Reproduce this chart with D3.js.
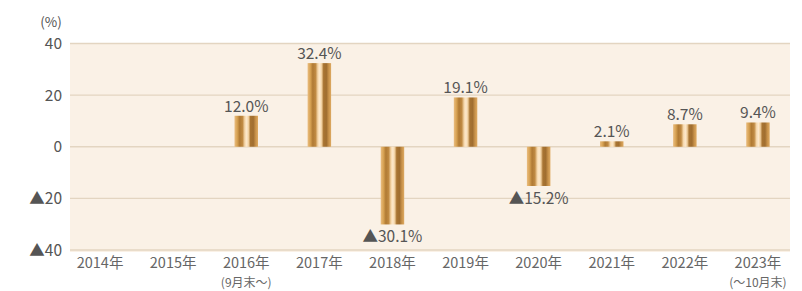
<!DOCTYPE html>
<html><head><meta charset="utf-8">
<script src="https://cdn.jsdelivr.net/npm/d3@7"></script>
<style>
html,body{margin:0;padding:0;background:#fff;}
svg{display:block;font-family:"Noto Sans CJK JP","Noto Sans",sans-serif;}
</style></head>
<body>
<svg id="c" width="802" height="291"></svg>
<script>
const categories = ["2014年","2015年","2016年","2017年","2018年","2019年","2020年","2021年","2022年","2023年"];
const subLabels = ["","","(9月末～)","","","","","","","(～10月末)"];
const values = [null,null,12.0,32.4,-30.1,19.1,-15.2,2.1,8.7,9.4];
const valueLabels = ["","","12.0%","32.4%","▲30.1%","19.1%","▲15.2%","2.1%","8.7%","9.4%"];
const yTicks = [40,20,0,-20,-40];
const yTickLabels = ["40","20","0","▲20","▲40"];

const svg = d3.select("#c");
const x = d3.scaleBand().domain(categories).range([63.5,794.5]).paddingInner(0).paddingOuter(0);
const y = d3.scaleLinear().domain([-40,40]).range([250,43.5]);
const barW = 23.5;

const defs = svg.append("defs");
const g = defs.append("linearGradient").attr("id","bar").attr("x1","0").attr("x2","1").attr("y1","0").attr("y2","0");
[[0,"#eabd80"],[0.12,"#d6a152"],[0.22,"#b07a34"],[0.34,"#c08a42"],[0.44,"#f6d8ac"],[0.52,"#fde9cd"],[0.60,"#f0cf9e"],[0.68,"#a87432"],[0.80,"#a06e30"],[0.90,"#c8924a"],[1,"#deaa62"]]
  .forEach(([o,c])=>g.append("stop").attr("offset",o).attr("stop-color",c));

// background
svg.append("rect").attr("x",70).attr("y",y(40)).attr("width",720).attr("height",y(-40)-y(40)+2).attr("fill","#faf1e6");

// gridlines
svg.append("g").selectAll("line").data(yTicks).join("line")
  .attr("x1",70).attr("x2",790).attr("y1",d=>y(d)).attr("y2",d=>y(d))
  .attr("stroke","#e3d5c1").attr("stroke-width",1.3);

// y labels
svg.append("g").selectAll("text").data(yTicks).join("text")
  .attr("x",62).attr("y",d=>y(d)+5.5).attr("text-anchor","end")
  .attr("font-size",15.5).attr("fill","#555").text((d,i)=>yTickLabels[i]);
svg.append("text").attr("x",51).attr("y",27).attr("text-anchor","middle").attr("font-size",13.5).attr("fill","#555").text("(%)");

// bars
const data = categories.map((c,i)=>({c,v:values[i],lab:valueLabels[i],sub:subLabels[i]}));
const bd = data.filter(d=>d.v!==null);
svg.append("g").selectAll("rect").data(bd).join("rect")
  .attr("x",d=>x(d.c)+x.bandwidth()/2-barW/2).attr("width",barW)
  .attr("y",d=>y(Math.max(0,d.v))).attr("height",d=>Math.abs(y(d.v)-y(0)))
  .attr("fill","url(#bar)");

// value labels
svg.append("g").selectAll("text").data(bd).join("text")
  .attr("x",d=>x(d.c)+x.bandwidth()/2)
  .attr("y",d=>d.v>=0 ? y(d.v)-4 : y(d.v)+18)
  .attr("text-anchor","middle").attr("font-size",15.5).attr("fill","#555").text(d=>d.lab);

// x labels (two lines in one text element)
const xt = svg.append("g").selectAll("text").data(data).join("text")
  .attr("x",d=>x(d.c)+x.bandwidth()/2).attr("y",268).attr("text-anchor","middle")
  .attr("fill","#666");
xt.append("tspan").attr("x",d=>x(d.c)+x.bandwidth()/2).attr("font-size",14.5).text(d=>d.c);
xt.filter(d=>d.sub).append("tspan").attr("x",d=>x(d.c)+x.bandwidth()/2).attr("dy",19)
  .attr("font-size",12).text(d=>d.sub);
</script>
</body></html>
